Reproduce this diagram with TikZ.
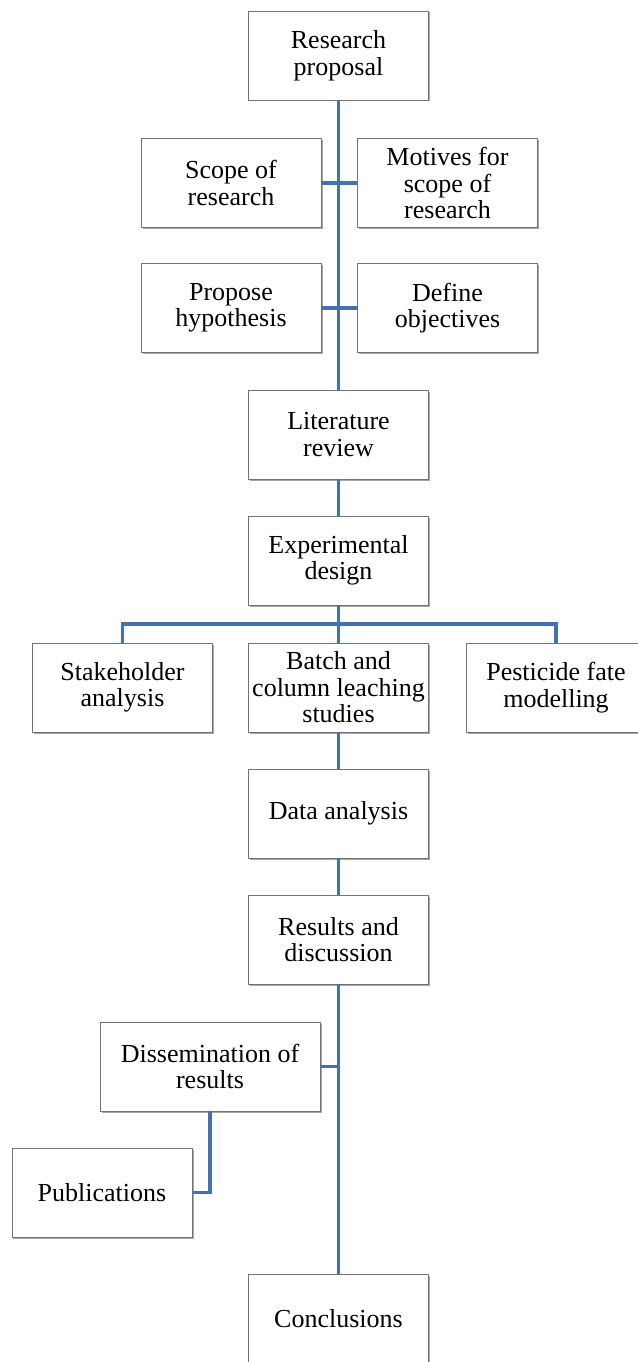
\documentclass[tikz,border=0pt]{standalone}
\usepackage{fontspec}
\setmainfont{Liberation Serif}
\usetikzlibrary{shadows}
\definecolor{linkblue}{RGB}{68,114,176}
\definecolor{boxgray}{RGB}{115,115,115}

\begin{document}
\begin{tikzpicture}[x=1bp,y=-1bp,
	every node/.style={draw=boxgray,line width=0.8bp,fill=white,align=center,
		minimum width=180bp,minimum height=89bp,inner sep=0pt,
		font=\fontsize{26bp}{26.5bp}\selectfont,
		drop shadow={shadow xshift=1.5bp,shadow yshift=-1.5bp,opacity=0.35,fill=black}},
	link/.style={draw=linkblue,line width=3.8bp}]
\useasboundingbox (0,0) rectangle (638,1362);
% boxes
\node (proposal) at (338.5,55.5) {Research\\proposal};
\node (scope) at (231,183) {Scope of\\research};
\node (motives) at (447.5,183) {Motives for\\scope of\\research};
\node (hypothesis) at (231,308) {Propose\\hypothesis};
\node (objectives) at (447.5,308) {Define\\objectives};
\node (literature) at (338.5,434.5) {Literature\\review};
\node (design) at (338.5,560.5) {Experimental\\design};
\node (stakeholder) at (122.5,687.5) {Stakeholder\\analysis};
\node (leaching) at (338.5,687.5) {Batch and\\column leaching\\studies};
\node (fate) at (556,687.5) {Pesticide fate\\modelling};
\node (data) at (338.5,813.5) {Data analysis};
\node (results) at (338.5,939.5) {Results and\\discussion};
\node[minimum width=220bp] (dissemination) at (210,1066.5) {Dissemination of\\results};
\node (publications) at (102,1192.5) {Publications};
\node (conclusions) at (338.5,1319) {Conclusions};
\coordinate (split) at (338.5,624);
% links
\draw[link] (proposal) -- (literature);
\draw[link] (scope) -- (motives);
\draw[link] (hypothesis) -- (objectives);
\draw[link] (literature) -- (design);
\draw[link] (design) -- (leaching);
\draw[link] (stakeholder.north) |- (split) -| (fate.north);
\draw[link] (leaching) -- (data);
\draw[link] (data) -- (results);
\draw[link] (results) -- (conclusions);
\draw[link] (dissemination.east) -- (dissemination.east -| results);
\draw[link] (dissemination.south) |- (publications.east);
\end{tikzpicture}
\end{document}
